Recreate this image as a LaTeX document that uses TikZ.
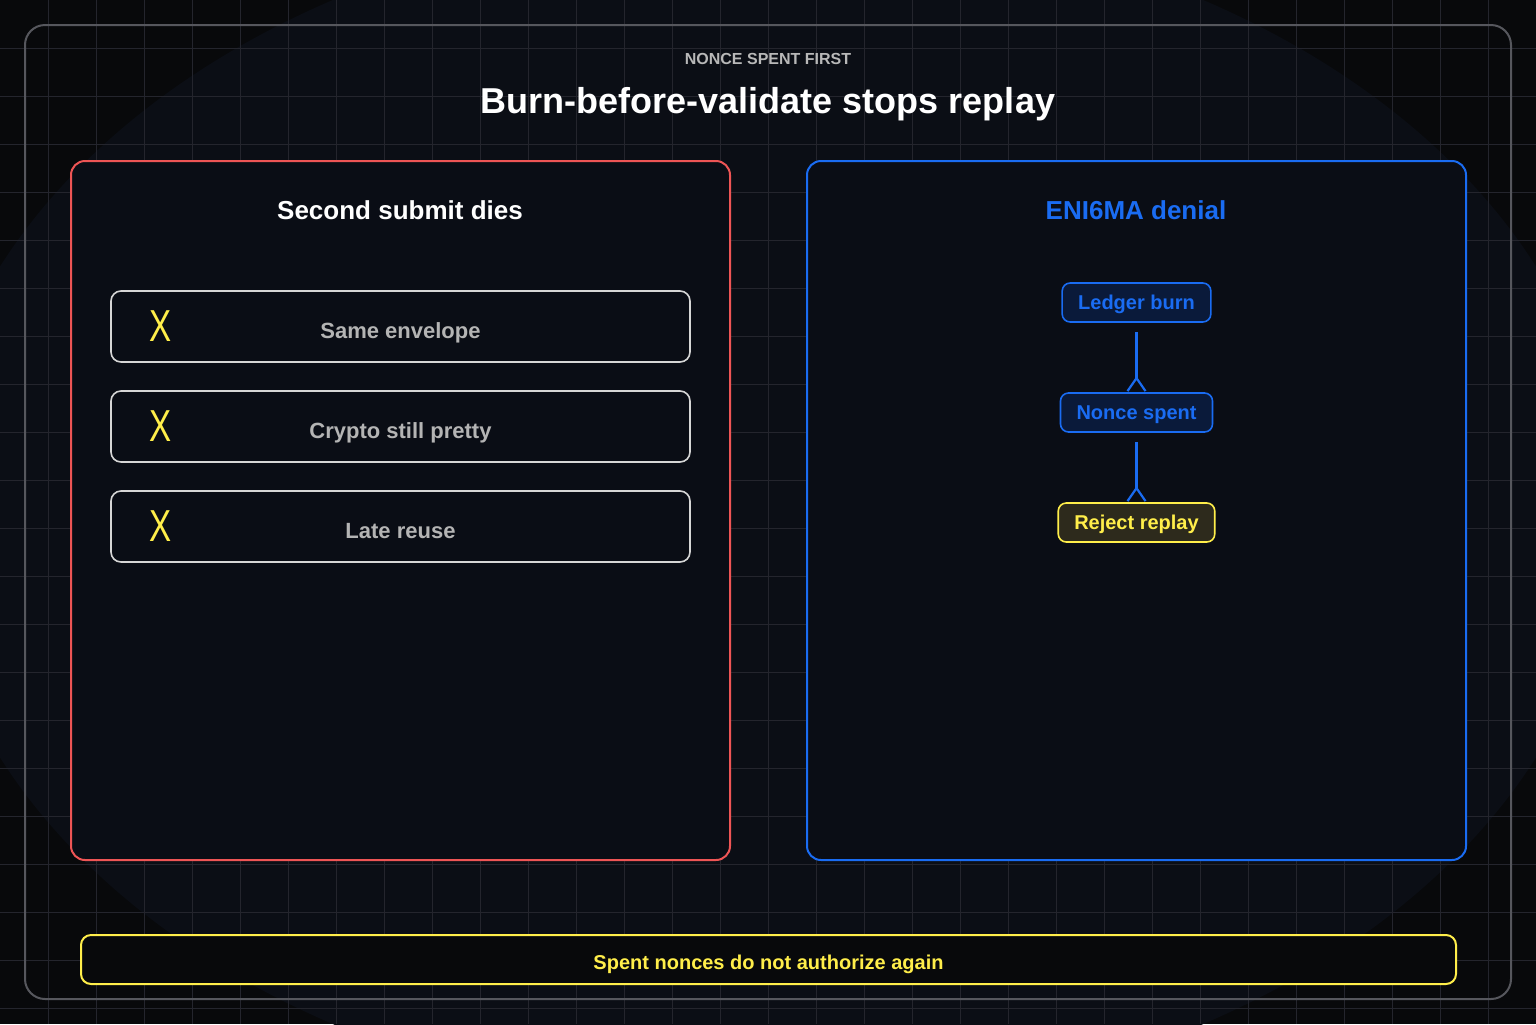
\documentclass[tikz,border=0pt]{standalone}
\usepackage{fontspec}
\setmainfont{Liberation Sans}
\usetikzlibrary{positioning,arrows.meta}
\definecolor{bgdark}{HTML}{08090B}
\definecolor{glow}{HTML}{0B0E15}
\definecolor{gridcol}{HTML}{24252D}
\definecolor{framecol}{HTML}{56575D}
\definecolor{panelbg}{HTML}{0A0D15}
\definecolor{failred}{HTML}{EE5555}
\definecolor{enblue}{HTML}{1A6CF2}
\definecolor{nodeblue}{HTML}{0A1A3A}
\definecolor{warnyel}{HTML}{FFEE4A}
\definecolor{rejectbg}{HTML}{2D2A1C}
\definecolor{itemline}{HTML}{D6D6D6}
\definecolor{itemtext}{HTML}{B4B4B4}
\definecolor{captext}{HTML}{B8B8B8}
\tikzset{
  gridline/.style={draw=gridcol, line width=0.5pt},
  panel/.style={draw, rounded corners=7pt, line width=1pt, fill=panelbg,
                minimum width=329.5pt, minimum height=349.5pt},
  paneltitle/.style={anchor=base, font=\bfseries\fontsize{13}{15}\selectfont},
  item/.style={draw=itemline, rounded corners=5pt, line width=0.8pt, fill=panelbg,
               minimum width=289.5pt, minimum height=35.5pt, text=itemtext,
               text height=11.5pt, text depth=0pt,
               font=\bfseries\fontsize{11}{13}\selectfont},
  xmark/.style={inner sep=0pt, text=warnyel, font=\fontsize{22.4}{22.4}\selectfont},
  flownode/.style={draw=enblue, fill=nodeblue, text=enblue, rounded corners=4pt,
                   line width=0.8pt, minimum height=19.5pt, inner xsep=8pt,
                   text height=6.5pt, text depth=0pt,
                   font=\bfseries\fontsize{10}{12}\selectfont},
  flow/.style={-{Straight Barb[reversed, length=6.5pt, width=9pt]}, draw=enblue,
               line width=1.1pt, shorten <=4.5pt},
}
\begin{document}
\begin{tikzpicture}[x=0.5pt, y=-0.5pt]
  \useasboundingbox (0,0) rectangle (1536,1024);
  \clip (0,0) rectangle (1536,1024);
  % backdrop
  \fill[bgdark] (0,0) rectangle (1536,1024);
  \fill[glow] (768,512) ellipse [x radius=421pt, y radius=299pt];
  \foreach \gx in {48,96,...,1488} \draw[gridline] (\gx,0) -- (\gx,1024);
  \foreach \gy in {48,96,...,1008} \draw[gridline] (0,\gy) -- (1536,\gy);
  \draw[framecol, line width=1pt, rounded corners=10pt] (25,25) rectangle (1511,999);

  \node[anchor=base, text=captext, font=\bfseries\fontsize{8}{10}\selectfont] (kicker) at (768,64) {NONCE SPENT FIRST};
  \node[anchor=base, text=white, font=\bfseries\fontsize{18}{22}\selectfont] (title) at (768,113) {Burn-before-validate stops replay};

  % left: failed replay attempts
  \node[panel, draw=failred] (left) at (400.5,510.5) {};
  \node[paneltitle, text=white] (lefttitle) at (400,219) {Second submit dies};
  \node[item] (item1) at (400.5,326.5) {Same envelope};
  \node[item, below=13.7pt of item1] (item2) {Crypto still pretty};
  \node[item, below=13.7pt of item2] (item3) {Late reuse};
  \foreach \i in {1,2,3}
    \node[xmark, right=19.5pt of item\i.west] (x\i) {\scalebox{0.74}[1]{X}};

  % right: the denial path
  \node[panel, draw=enblue] (right) at (1136.5,510.5) {};
  \node[paneltitle, text=enblue] (righttitle) at (1136,219) {ENI6MA denial};
  \node[flownode] (burn) at (1136.5,302.5) {Ledger burn};
  \node[flownode, below=34.7pt of burn] (spent) {Nonce spent};
  \node[flownode, below=34.7pt of spent, draw=warnyel, fill=rejectbg, text=warnyel] (reject) {Reject replay};
  \draw[flow] (burn) -- (spent);
  \draw[flow] (spent) -- (reject);

  \node[draw=warnyel, fill=bgdark, line width=1pt, rounded corners=5pt,
        minimum width=687.5pt, minimum height=24.5pt, text=warnyel,
        text height=9.5pt, text depth=0pt,
        font=\bfseries\fontsize{10}{12}\selectfont] (rule) at (768.5,959.5)
    {Spent nonces do not authorize again};
\end{tikzpicture}
\end{document}
